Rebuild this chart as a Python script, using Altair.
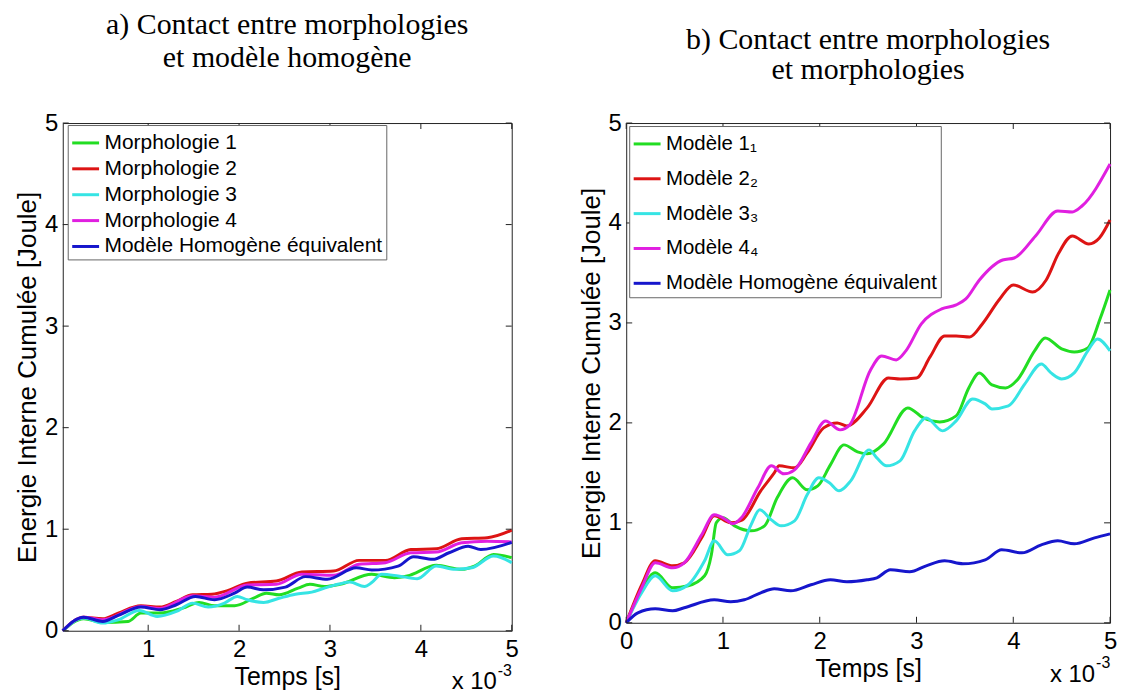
import altair as alt
import pandas as pd

SANS = "Liberation Sans"
SERIF = "Liberation Serif"

# ---------------- data ----------------
colors = ["#22dd22", "#dd1414", "#36e4e4", "#e01fe0", "#1616cc"]

names_L = ["Morphologie 1", "Morphologie 2", "Morphologie 3", "Morphologie 4",
           "Modèle Homogène équivalent"]
names_R = ["Modèle 1\u2081", "Modèle 2\u2082", "Modèle 3\u2083", "Modèle 4\u2084",
           "Modèle Homogène équivalent"]

# panel a) time in 1e-3 s, energy in J
aL1_t = [0.06, 0.29, 0.50, 0.78, 0.92, 1.13, 1.38, 1.56, 1.73, 1.95, 2.16, 2.30, 2.44, 2.65, 2.78, 2.94,
         3.11, 3.46, 3.71, 3.85, 4.17, 4.45, 4.59, 4.80, 5.0]
aL1_e = [0.0, 0.118, 0.082, 0.092, 0.174, 0.174, 0.223, 0.279, 0.246, 0.246, 0.321, 0.37, 0.354, 0.42, 0.458, 0.435,
         0.458, 0.556, 0.523, 0.539, 0.644, 0.605, 0.637, 0.752, 0.72]
aL2_t = [0.06, 0.29, 0.50, 0.67, 0.92, 1.13, 1.31, 1.49, 1.70, 1.88, 2.09, 2.41, 2.69, 3.04, 3.32, 3.61,
         3.89, 4.17, 4.45, 4.73, 5.0]
aL2_e = [0.0, 0.134, 0.118, 0.174, 0.246, 0.233, 0.289, 0.354, 0.36, 0.397, 0.469, 0.49, 0.578, 0.588, 0.693, 0.693,
         0.80, 0.807, 0.905, 0.915, 0.99]
aL3_t = [0.06, 0.29, 0.50, 0.67, 0.90, 1.10, 1.31, 1.49, 1.66, 1.84, 1.98, 2.09, 2.27, 2.44, 2.62, 2.80,
         2.94, 3.10, 3.22, 3.38, 3.46, 3.57, 3.75, 3.96, 4.17, 4.38, 4.56, 4.80, 5.0]
aL3_e = [0.0, 0.125, 0.075, 0.108, 0.20, 0.141, 0.19, 0.272, 0.233, 0.272, 0.338, 0.305, 0.279, 0.32, 0.36, 0.38,
         0.42, 0.46, 0.48, 0.435, 0.474, 0.556, 0.54, 0.513, 0.637, 0.605, 0.62, 0.735, 0.67]
aL4_t = [0.06, 0.29, 0.50, 0.92, 1.13, 1.49, 1.73, 2.09, 2.41, 2.69, 3.04, 3.32, 3.61, 3.89, 4.17, 4.45,
         4.73, 5.0]
aL4_e = [0.0, 0.134, 0.108, 0.24, 0.22, 0.345, 0.33, 0.45, 0.457, 0.556, 0.546, 0.654, 0.67, 0.768, 0.775, 0.866,
         0.882, 0.875]
aLH_t = [0.06, 0.29, 0.50, 0.67, 0.92, 1.13, 1.31, 1.52, 1.73, 1.95, 2.09, 2.27, 2.51, 2.73, 2.97, 3.29,
         3.46, 3.75, 3.92, 4.13, 4.31, 4.52, 4.66, 5.0]
aLH_e = [0.0, 0.134, 0.092, 0.151, 0.233, 0.207, 0.256, 0.338, 0.305, 0.37, 0.43, 0.403, 0.43, 0.533, 0.507, 0.62,
         0.598, 0.637, 0.729, 0.703, 0.768, 0.833, 0.80, 0.87]

# panel b)
bR1_t = [0.0, 0.16, 0.30, 0.48, 0.64, 0.81, 0.88, 0.93, 1.00, 1.12, 1.29, 1.43, 1.56, 1.72, 1.87, 1.98,
         2.11, 2.25, 2.39, 2.49, 2.66, 2.91, 3.07, 3.24, 3.41, 3.54, 3.65, 3.78, 3.92, 4.05, 4.22, 4.33,
         4.50, 4.63, 4.77, 4.90, 5.0]
bR1_e = [0.0, 0.33, 0.50, 0.35, 0.37, 0.47, 0.68, 1.00, 1.05, 0.97, 0.92, 0.97, 1.25, 1.45, 1.33, 1.37,
         1.58, 1.78, 1.71, 1.69, 1.79, 2.15, 2.05, 2.01, 2.07, 2.35, 2.50, 2.38, 2.35, 2.44, 2.72, 2.85,
         2.74, 2.71, 2.75, 3.05, 3.33]
bR2_t = [0.0, 0.16, 0.30, 0.48, 0.60, 0.78, 0.91, 1.08, 1.20, 1.39, 1.53, 1.58, 1.74, 1.87, 2.04, 2.18,
         2.28, 2.49, 2.71, 2.83, 3.00, 3.14, 3.29, 3.41, 3.55, 3.68, 3.86, 4.00, 4.20, 4.34, 4.47, 4.61,
         4.78, 4.89, 5.0]
bR2_e = [0.0, 0.38, 0.62, 0.57, 0.60, 0.85, 1.07, 1.00, 1.03, 1.32, 1.50, 1.57, 1.55, 1.70, 1.95, 2.00,
         1.97, 2.15, 2.45, 2.44, 2.45, 2.66, 2.87, 2.87, 2.86, 2.99, 3.24, 3.38, 3.31, 3.43, 3.70, 3.87,
         3.79, 3.85, 4.03]
bR3_t = [0.0, 0.16, 0.30, 0.48, 0.64, 0.81, 0.91, 1.05, 1.17, 1.29, 1.38, 1.50, 1.60, 1.74, 1.87, 1.99,
         2.10, 2.20, 2.32, 2.51, 2.59, 2.69, 2.83, 2.98, 3.10, 3.27, 3.41, 3.58, 3.71, 3.78, 3.95, 4.12,
         4.29, 4.39, 4.50, 4.63, 4.77, 4.87, 5.0]
bR3_e = [0.0, 0.30, 0.47, 0.32, 0.38, 0.62, 0.82, 0.68, 0.72, 0.98, 1.13, 1.03, 0.97, 1.02, 1.28, 1.45,
         1.40, 1.32, 1.42, 1.73, 1.65, 1.57, 1.62, 1.92, 2.05, 1.92, 2.02, 2.24, 2.19, 2.14, 2.17, 2.39,
         2.59, 2.50, 2.44, 2.50, 2.72, 2.84, 2.72]
bR4_t = [0.0, 0.16, 0.30, 0.48, 0.60, 0.78, 0.91, 1.05, 1.10, 1.19, 1.36, 1.50, 1.63, 1.74, 1.91, 2.06,
         2.21, 2.31, 2.52, 2.64, 2.79, 2.89, 3.05, 3.26, 3.41, 3.51, 3.65, 3.89, 4.01, 4.23, 4.46, 4.61,
         4.71, 5.0]
bR4_e = [0.0, 0.35, 0.60, 0.55, 0.60, 0.88, 1.08, 1.02, 0.99, 1.05, 1.35, 1.57, 1.49, 1.53, 1.80, 2.02,
         1.93, 1.98, 2.52, 2.67, 2.63, 2.72, 2.99, 3.14, 3.18, 3.24, 3.43, 3.63, 3.65, 3.87, 4.12, 4.11,
         4.17, 4.59]
bRH_t = [0.0, 0.12, 0.30, 0.48, 0.60, 0.91, 1.08, 1.22, 1.39, 1.53, 1.70, 1.91, 2.11, 2.28, 2.49, 2.59,
         2.73, 2.93, 3.10, 3.29, 3.48, 3.71, 3.88, 4.09, 4.29, 4.46, 4.63, 4.84, 5.0]
bRH_e = [0.0, 0.10, 0.14, 0.12, 0.15, 0.23, 0.21, 0.23, 0.30, 0.34, 0.32, 0.38, 0.43, 0.41, 0.43, 0.45,
         0.53, 0.51, 0.57, 0.62, 0.59, 0.63, 0.73, 0.70, 0.78, 0.82, 0.79, 0.85, 0.89]

y_ticks = [0, 1, 2, 3, 4, 5]
x_ticks_L = [1, 2, 3, 4, 5]
x_ticks_R = [0, 1, 2, 3, 4, 5]


def long_df(ts, es, names):
    rows = []
    for name, t, e in zip(names, ts, es):
        for i, (a, b) in enumerate(zip(t, e)):
            rows.append({"serie": name, "t": a, "e": b, "i": i})
    return pd.DataFrame(rows)


dfL = long_df([aL1_t, aL2_t, aL3_t, aL4_t, aLH_t], [aL1_e, aL2_e, aL3_e, aL4_e, aLH_e], names_L)
dfR = long_df([bR1_t, bR2_t, bR3_t, bR4_t, bRH_t], [bR1_e, bR2_e, bR3_e, bR4_e, bRH_e], names_R)


def panel(df, names, xdom, xticks, W, H, title, t_offset, t_lh, leg_x, leg_y, row_pad, leg_fs):
    xs = alt.Scale(domain=xdom, nice=False, zero=False)
    ys = alt.Scale(domain=[0, 5], nice=False, zero=False)
    xaxis = alt.Axis(values=xticks, title="Temps [s]", ticks=False, domain=False, grid=False,
                     labelFont=SANS, labelFontSize=24, labelColor="black", labelPadding=7,
                     labelFlush=False, labelOverlap=False,
                     titleFont=SANS, titleFontSize=25, titleFontWeight="normal", titleColor="black",
                     titleY=46, titleBaseline="middle")
    yaxis = alt.Axis(values=y_ticks, title="Energie Interne Cumulée [Joule]", ticks=False, domain=False,
                     grid=False, labelFont=SANS, labelFontSize=24, labelColor="black", labelPadding=5,
                     labelFlush=False, labelOverlap=False,
                     titleFont=SANS, titleFontSize=26, titleFontWeight="normal", titleColor="black",
                     titleX=-35, titleY=H / 2, titleBaseline="middle")
    color = alt.Color("serie:N", scale=alt.Scale(domain=names, range=colors),
                      legend=alt.Legend(title=None, orient="none", legendX=leg_x, legendY=leg_y,
                                        symbolType="stroke", symbolSize=729, symbolStrokeWidth=3,
                                        labelFont=SANS, labelFontSize=leg_fs, labelColor="black",
                                        labelOffset=4, labelLimit=0, fillColor="white",
                                        strokeColor="#666666", padding=3, rowPadding=row_pad))
    lines = alt.Chart(df).mark_line(strokeWidth=3, interpolate="monotone").encode(
        x=alt.X("t:Q", scale=xs, axis=xaxis),
        y=alt.Y("e:Q", scale=ys, axis=yaxis),
        color=color,
        order=alt.Order("i:Q"),
    )
    xt = pd.DataFrame({"t": xticks})
    yt = pd.DataFrame({"e": y_ticks})
    tb = alt.Chart(xt).mark_rule(color="#222", strokeWidth=1).encode(
        x=alt.X("t:Q", scale=xs, axis=xaxis), y=alt.value(H), y2=alt.value(H - 6))
    tt = alt.Chart(xt).mark_rule(color="#222", strokeWidth=1).encode(
        x=alt.X("t:Q", scale=xs, axis=xaxis), y=alt.value(0), y2=alt.value(6))
    tl = alt.Chart(yt).mark_rule(color="#222", strokeWidth=1).encode(
        y=alt.Y("e:Q", scale=ys, axis=yaxis), x=alt.value(0), x2=alt.value(6))
    tr = alt.Chart(yt).mark_rule(color="#222", strokeWidth=1).encode(
        y=alt.Y("e:Q", scale=ys, axis=yaxis), x=alt.value(W - 6), x2=alt.value(W))
    mult = alt.Chart(pd.DataFrame({"s": ["x 10"]})).mark_text(
        align="right", baseline="alphabetic", font=SANS, fontSize=24, color="black").encode(
        x=alt.value(W - 15), y=alt.value(H + 59), text="s:N")
    expo = alt.Chart(pd.DataFrame({"s": ["-3"]})).mark_text(
        align="left", baseline="alphabetic", font=SANS, fontSize=16, color="black").encode(
        x=alt.value(W - 14), y=alt.value(H + 45), text="s:N")
    return alt.layer(lines, tb, tt, tl, tr, mult, expo).properties(
        width=W, height=H,
        title=alt.TitleParams(text=title, font=SERIF, fontSize=30, fontWeight="normal",
                              color="black", anchor="middle", offset=t_offset, lineHeight=t_lh),
    )


left = panel(dfL, names_L, [0.06, 5], x_ticks_L, 451, 510,
             ["a) Contact entre morphologies", "et modèle homogène"], 38, 33, 5, 2, 1, 21)
right = panel(dfR, names_R, [0, 5], x_ticks_R, 486, 502,
              ["b) Contact entre morphologies", "et morphologies"], 26, 30, 3, 3, 9, 20.5)

chart = alt.hconcat(left, right, spacing=115, bounds="flush", padding={"left": 6, "top": 0, "right": 0, "bottom": 0}
                    ).resolve_scale(color="independent").configure_view(stroke="#222222", strokeWidth=1)

chart.save("out.html", embed_options={"renderer": "svg", "actions": False})
